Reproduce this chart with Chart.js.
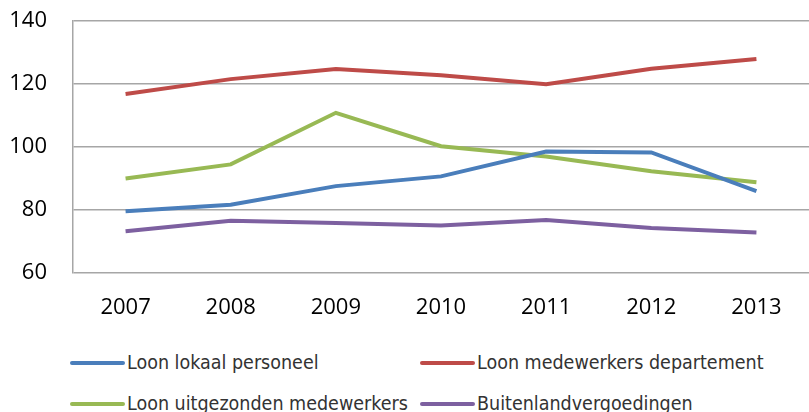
<!DOCTYPE html>
<html>
<head>
<meta charset="utf-8">
<script src="https://cdn.jsdelivr.net/npm/chart.js@4/dist/chart.umd.min.js"></script>
<style>
  html, body { margin: 0; padding: 0; background: #fff; }
  #wrap { position: relative; width: 809px; height: 412px; overflow: hidden; }
  #c { position: absolute; left: 0; top: -18px; }
  .lg { position: absolute; display: flex; align-items: center; font-family: "Liberation Sans Narrow", "DejaVu Sans Condensed", sans-serif; font-size: 19.5px; color: #333; white-space: nowrap; }
  .lg span.sw { display: inline-block; width: 55px; height: 4px; border-radius: 2px; margin-right: 2px; }
</style>
</head>
<body>
<div id="wrap">
  <canvas id="c" width="809" height="348"></canvas>
  <div id="legend"></div>
</div>
<script>
const years = ["2007", "2008", "2009", "2010", "2011", "2012", "2013"]
const lokaal = [79.6, 81.7, 87.6, 90.7, 98.6, 98.3, 86]
const departement = [116.9, 121.6, 124.8, 122.8, 120, 124.9, 128]
const uitgezonden = [90, 94.5, 110.9, 100.3, 97, 92.3, 88.8]
const buitenland = [73.3, 76.6, 75.9, 75.1, 76.8, 74.3, 72.9]
const names = ["Loon lokaal personeel", "Loon medewerkers departement", "Loon uitgezonden medewerkers", "Buitenlandvergoedingen"]
const colors = ["#4A7EBB", "#BE4B48", "#98B954", "#7D60A0"]

const series = [lokaal, departement, uitgezonden, buitenland]
const tickFont = { family: "'Open Sans', sans-serif", size: 22 }

new Chart(document.getElementById("c"), {
  type: "line",
  data: {
    labels: years,
    datasets: series.map((d, i) => ({
      label: names[i],
      data: d,
      borderColor: colors[i],
      backgroundColor: colors[i],
      borderWidth: 4,
      pointRadius: 0,
      tension: 0,
      fill: false,
    })),
  },
  options: {
    responsive: false,
    animation: false,
    layout: { padding: 0 },
    plugins: { legend: { display: false }, tooltip: { enabled: false } },
    scales: {
      x: {
        offset: true,
        grid: { display: false, drawTicks: false },
        border: { display: false },
        ticks: { color: "#000", font: tickFont, padding: 22 },
        afterFit: s => { s.height = 57 },
      },
      y: {
        min: 60,
        max: 140,
        ticks: { stepSize: 20, color: "#000", font: tickFont, padding: 26 },
        grid: { color: "#A6A6A6", lineWidth: 1.5, drawTicks: false },
        border: { color: "#A6A6A6", width: 1.5 },
        afterFit: s => { s.width = 73 },
      },
    },
  },
})

// legend in two rows, like the original
const lg = document.getElementById("legend")
const pos = [[70, 361], [420, 361], [70, 402], [420, 402]]
names.forEach((n, i) => {
  const el = document.createElement("div")
  el.className = "lg"
  el.style.left = pos[i][0] + "px"
  el.style.top = (pos[i][1] - 10) + "px"
  el.innerHTML = `<span class="sw" style="background:${colors[i]}"></span>${n}`
  lg.appendChild(el)
})
</script>
</body>
</html>
